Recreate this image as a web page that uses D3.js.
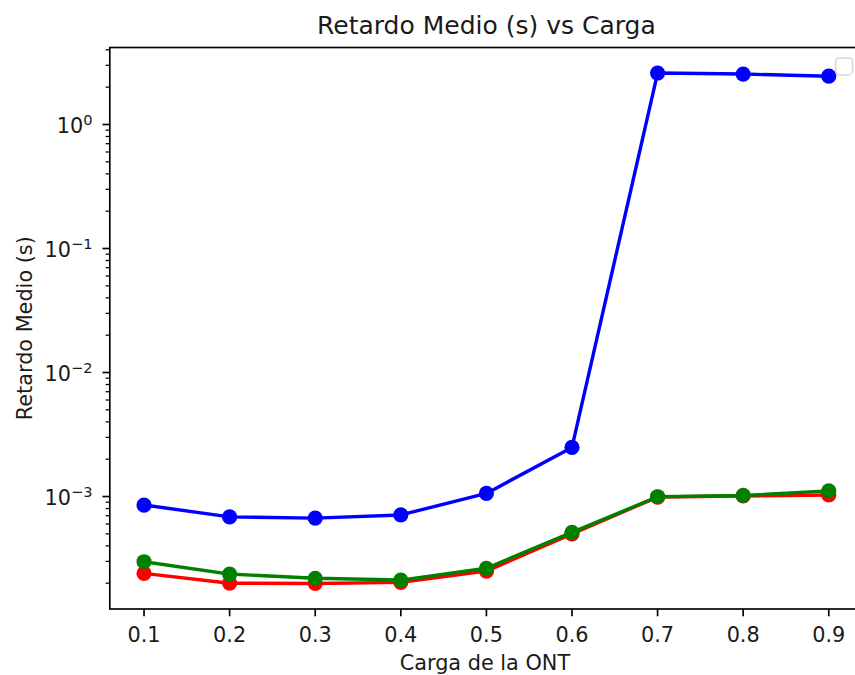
<!DOCTYPE html>
<html>
<head>
<meta charset="utf-8">
<script src="https://cdn.jsdelivr.net/npm/d3@7"></script>
<style>
  body { margin: 0; background: #fff; }
  svg { display: block; font-family: "DejaVu Sans", sans-serif; }
</style>
</head>
<body>
<svg id="chart" width="855" height="675"></svg>
<script>
// Data
var cargas = [0.1, 0.2, 0.3, 0.4, 0.5, 0.6, 0.7, 0.8, 0.9];
var xTickLabels = ['0.1', '0.2', '0.3', '0.4', '0.5', '0.6', '0.7', '0.8', '0.9'];
var retardoRojo = [2.40e-4, 2.00e-4, 1.99e-4, 2.03e-4, 2.50e-4, 5.00e-4, 9.90e-4, 1.01e-3, 1.03e-3];
var retardoAzul = [8.54e-4, 6.85e-4, 6.70e-4, 7.10e-4, 1.06e-3, 2.49e-3, 2.60, 2.55, 2.45];
var retardoVerde = [2.98e-4, 2.37e-4, 2.19e-4, 2.12e-4, 2.64e-4, 5.14e-4, 9.96e-4, 1.02e-3, 1.11e-3];
var yTickExps = [-3, -2, -1, 0];

var series = [
  {color: '#ff0000', values: retardoRojo},
  {color: '#0000ff', values: retardoAzul},
  {color: '#008000', values: retardoVerde}
];

// Axes box (matplotlib-like)  -- note: "top" is taken by window.top, so ax* names
var axLeft = 109.8, axRight = 863, axTop = 47.5, axBottom = 609;
var fs = 20.8; // 10pt

var svg = d3.select('#chart');

// x: 5% margins
var xMin = d3.min(cargas), xMax = d3.max(cargas);
var xPad = (xMax - xMin) * 0.05;
var x = d3.scaleLinear()
  .domain([xMin - xPad, xMax + xPad])
  .range([axLeft, axRight]);

// y: log with 5% margins in decades
var allVals = retardoRojo.concat(retardoAzul, retardoVerde);
var lMin = Math.log10(d3.min(allVals)), lMax = Math.log10(d3.max(allVals));
var lPad = (lMax - lMin) * 0.05;
var y = d3.scaleLog()
  .domain([Math.pow(10, lMin - lPad), Math.pow(10, lMax + lPad)])
  .range([axBottom, axTop]);

// clip for lines
svg.append('defs').append('clipPath').attr('id', 'clip')
  .append('rect')
  .attr('x', axLeft).attr('y', axTop)
  .attr('width', axRight - axLeft).attr('height', axBottom - axTop);

var plot = svg.append('g').attr('clip-path', 'url(#clip)');

var line = d3.line()
  .x(function(d, i) { return x(cargas[i]); })
  .y(function(d) { return y(d); });

series.forEach(function(s) {
  plot.append('path')
    .attr('d', line(s.values))
    .attr('fill', 'none')
    .attr('stroke', s.color)
    .attr('stroke-width', 3.4)
    .attr('stroke-linejoin', 'round');
  plot.selectAll(null)
    .data(s.values)
    .enter()
    .append('circle')
      .attr('cx', function(d, i) { return x(cargas[i]); })
      .attr('cy', function(d) { return y(d); })
      .attr('r', 7.6)
      .attr('fill', s.color);
});

// Spines
svg.append('rect')
  .attr('x', axLeft).attr('y', axTop)
  .attr('width', axRight - axLeft).attr('height', axBottom - axTop)
  .attr('fill', 'none')
  .attr('stroke', '#000')
  .attr('stroke-width', 1.67);

// x ticks
var xt = svg.append('g');
cargas.forEach(function(c, i) {
  xt.append('line')
    .attr('x1', x(c)).attr('x2', x(c))
    .attr('y1', axBottom).attr('y2', axBottom + 7.3)
    .attr('stroke', '#000').attr('stroke-width', 1.67);
  xt.append('text')
    .attr('x', x(c)).attr('y', axBottom + 33)
    .attr('text-anchor', 'middle')
    .attr('font-size', fs)
    .attr('fill', '#1a1a1a')
    .text(xTickLabels[i]);
});

// y ticks (major + minor from the log scale)
var yt = svg.append('g');
y.ticks().forEach(function(t) {
  var e = Math.log10(t);
  var major = Math.abs(e - Math.round(e)) < 1e-9;
  yt.append('line')
    .attr('x1', axLeft).attr('x2', axLeft - (major ? 7.3 : 4.2))
    .attr('y1', y(t)).attr('y2', y(t))
    .attr('stroke', '#000').attr('stroke-width', major ? 1.67 : 1.25);
});
yTickExps.forEach(function(e) {
  var ty = y(Math.pow(10, e));
  var txt = yt.append('text')
    .attr('x', 92.5).attr('y', ty + 8.5)
    .attr('text-anchor', 'end')
    .attr('font-size', fs)
    .attr('fill', '#1a1a1a');
  txt.append('tspan').text('10');
  txt.append('tspan')
    .attr('font-size', 14.6)
    .attr('dy', -8)
    .text(e < 0 ? '\u2212' + Math.abs(e) : String(e));
});

// Labels
svg.append('text')
  .attr('x', (axLeft + axRight) / 2 - 1.5).attr('y', 670)
  .attr('text-anchor', 'middle')
  .attr('font-size', fs)
  .attr('fill', '#1a1a1a')
  .text('Carga de la ONT');

svg.append('text')
  .attr('transform', 'translate(31.5,' + ((axTop + axBottom) / 2) + ') rotate(-90)')
  .attr('text-anchor', 'middle')
  .attr('font-size', fs)
  .attr('fill', '#1a1a1a')
  .text('Retardo Medio (s)');

svg.append('text')
  .attr('x', (axLeft + axRight) / 2).attr('y', 33.5)
  .attr('text-anchor', 'middle')
  .attr('font-size', 25)
  .attr('fill', '#1a1a1a')
  .text('Retardo Medio (s) vs Carga');

// Empty legend box (upper right)
svg.append('rect')
  .attr('x', axRight - 10.4 - 17).attr('y', axTop + 10.4)
  .attr('width', 17).attr('height', 17)
  .attr('rx', 4)
  .attr('fill', 'rgba(255,255,255,0.8)')
  .attr('stroke', '#d6d6d6')
  .attr('stroke-width', 1.5);
</script>
</body>
</html>
